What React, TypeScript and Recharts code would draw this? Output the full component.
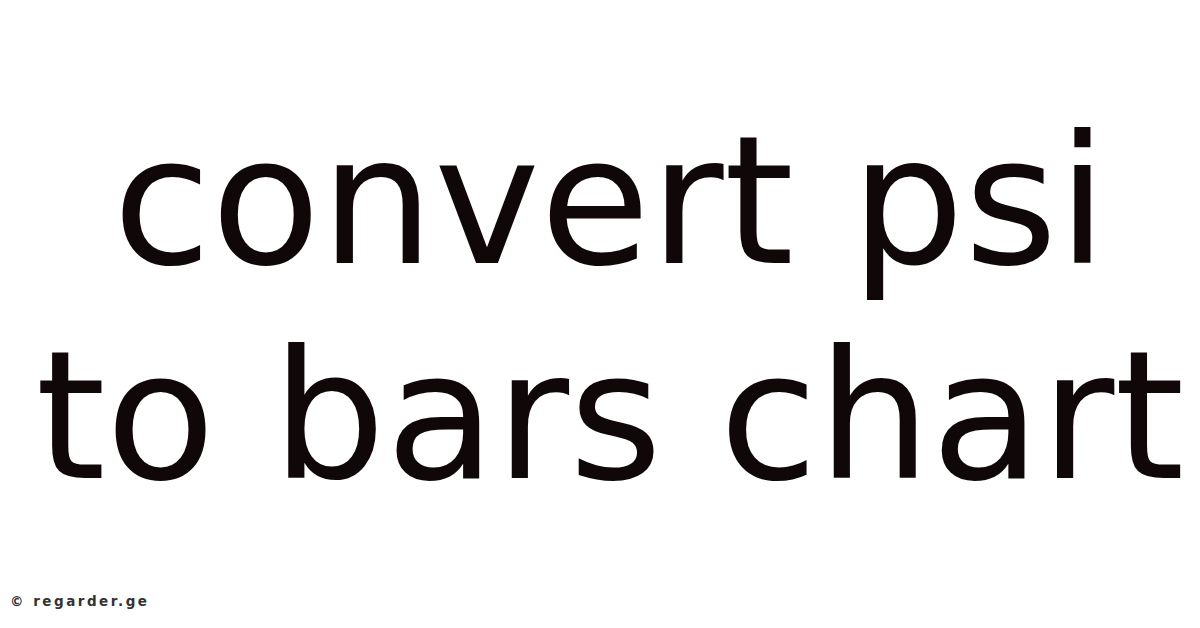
import React from "react";
import { Surface, Layer, Text } from "recharts";

// headline lines, top to bottom
const titleLines: string[] = ["convert psi", "to bars chart"];
const sourceNote = "© regarder.ge";

const WIDTH = 1200;
const HEIGHT = 628;

const App: React.FC = () => {
  return (
    <div style={{ position: "absolute", left: 0, top: 0, width: WIDTH, height: HEIGHT, background: "#ffffff" }}>
      <Surface width={WIDTH} height={HEIGHT} viewBox={{ x: 0, y: 0, width: WIDTH, height: HEIGHT }}>
        <Layer>
          {titleLines.map((line, i) => (
            <Text
              key={line}
              x={610}
              y={263 + i * 215}
              textAnchor="middle"
              verticalAnchor="end"
              fontFamily="DejaVu Sans"
              fontSize={179}
              fill="#100808"
            >
              {line}
            </Text>
          ))}
          <Text
            x={10}
            y={606}
            textAnchor="start"
            verticalAnchor="end"
            fontFamily="DejaVu Sans"
            fontSize={13.5}
            fontWeight={600}
            letterSpacing={2.5}
            fill="#333333"
          >
            {sourceNote}
          </Text>
        </Layer>
      </Surface>
    </div>
  );
};

export default App;
